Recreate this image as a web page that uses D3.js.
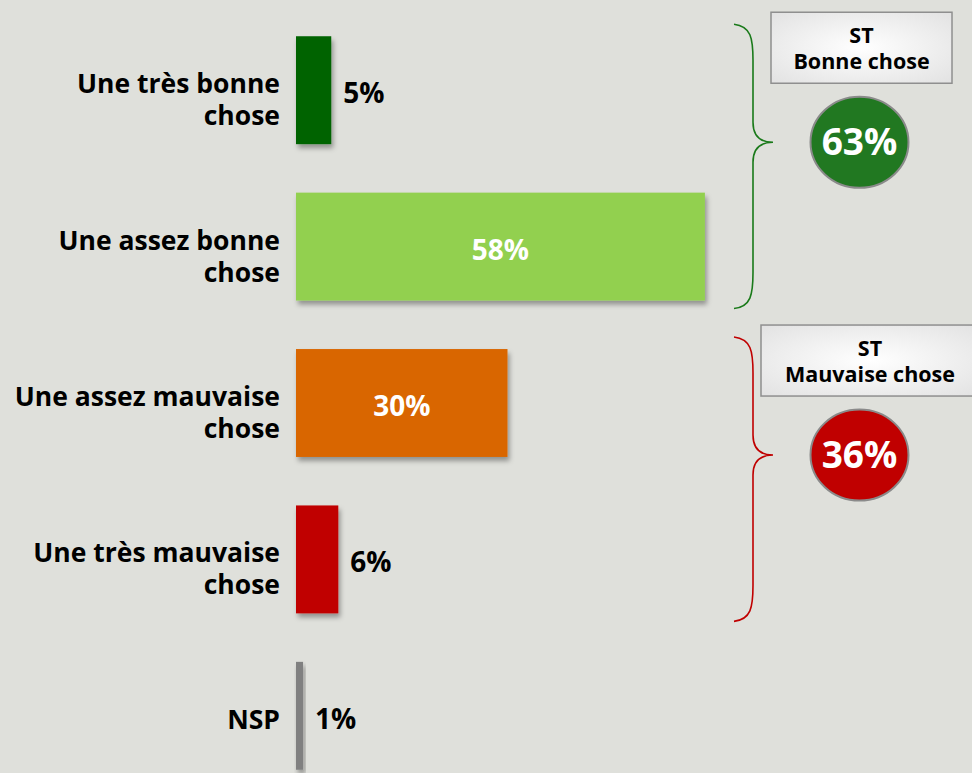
<!DOCTYPE html>
<html>
<head>
<meta charset="utf-8">
<script src="https://cdn.jsdelivr.net/npm/d3@7"></script>
<style>
  body { margin: 0; background: #dfe0db; }
  svg { display: block; font-family: "Open Sans", "DejaVu Sans", sans-serif; font-weight: 700; }
</style>
</head>
<body>
<div id="chart"></div>
<script>
    // data
    var categories = [
        ["Une très bonne", "chose"],
        ["Une assez bonne", "chose"],
        ["Une assez mauvaise", "chose"],
        ["Une très mauvaise", "chose"],
        ["NSP"]
    ]
    var values = [5, 58, 30, 6, 1]
    var colors = ["#006400", "#92d050", "#d96600", "#c00000", "#808080"]
    var groupTitles = [["ST", "Bonne chose"], ["ST", "Mauvaise chose"]]
    var groupMembers = [[0, 1], [2, 3]]
    var groupColors = ["#217821", "#c00000"]
    var braceColors = ["#1a7a1a", "#c00000"]

    var width = 972
    var height = 773

    var svg = d3.select('#chart')
        .append('svg')
        .attr('width', width)
        .attr('height', height)

    var defs = svg.append('defs')
    defs.append('filter')
        .attr('id', 'shadow')
        .attr('x', '-20%').attr('y', '-20%').attr('width', '150%').attr('height', '150%')
        .append('feDropShadow')
        .attr('dx', 2).attr('dy', 4)
        .attr('stdDeviation', 2.5)
        .attr('flood-color', '#000')
        .attr('flood-opacity', 0.35)

    var grad = defs.append('radialGradient').attr('id', 'boxfill')
        .attr('cx', '50%').attr('cy', '50%').attr('r', '70%')
    grad.append('stop').attr('offset', '0%').attr('stop-color', '#ffffff')
    grad.append('stop').attr('offset', '100%').attr('stop-color', '#e2e2e2')

    var x = d3.scaleLinear().domain([0, 100]).range([296, 1001])
    var y = d3.scaleBand()
        .domain(d3.range(values.length))
        .range([12, 794])
        .paddingInner(0.31)
        .paddingOuter(0.155)

    // bars
    svg.selectAll('rect.bar')
        .data(values)
        .enter()
        .append('rect')
        .attr('class', 'bar')
        .attr('x', x(0))
        .attr('y', function (d, i) { return y(i) })
        .attr('width', function (d) { return x(d) - x(0) })
        .attr('height', y.bandwidth())
        .attr('fill', function (d, i) { return colors[i] })
        .attr('filter', 'url(#shadow)')

    // value labels : inside (white) when the bar is wide, outside otherwise
    svg.selectAll('text.val')
        .data(values)
        .enter()
        .append('text')
        .attr('class', 'val')
        .attr('x', function (d) { return d > 15 ? (x(0) + x(d)) / 2 : x(d) + 12 })
        .attr('y', function (d, i) { return y(i) + y.bandwidth() / 2 + 13 })
        .attr('text-anchor', function (d) { return d > 15 ? 'middle' : 'start' })
        .attr('fill', function (d) { return d > 15 ? '#fff' : '#000' })
        .style('font-size', '28px')
        .text(function (d) { return d + '%' })

    // category labels
    var cat = svg.selectAll('text.cat')
        .data(categories)
        .enter()
        .append('text')
        .attr('class', 'cat')
        .attr('text-anchor', 'end')
        .attr('fill', '#000')
        .style('font-size', '26.5px')
        .attr('transform', function (d, i) {
            var cy = y(i) + y.bandwidth() / 2
            return 'translate(280,' + (d.length > 1 ? cy + 3 : cy + 13) + ')'
        })
    cat.selectAll('tspan')
        .data(function (d) { return d })
        .enter()
        .append('tspan')
        .attr('x', 0)
        .attr('dy', function (d, j) { return j == 0 ? 0 : 32 })
        .text(function (d) { return d })

    // braces, boxes and subtotal circles
    groupMembers.forEach(function (m, g) {
        var top = y(m[0]) - 12
        var bot = y(m[m.length - 1]) + y.bandwidth() + 8
        var cy = top + 118
        var xl = 734, xm = 753, xt = 773
        var p = d3.path()
        p.moveTo(xl, top)
        p.bezierCurveTo(xm - 2, top + 2, xm, top + 14, xm, top + 36)
        p.lineTo(xm, cy - 20)
        p.bezierCurveTo(xm, cy - 6, xm + 8, cy, xt, cy)
        p.bezierCurveTo(xm + 8, cy, xm, cy + 6, xm, cy + 20)
        p.lineTo(xm, bot - 36)
        p.bezierCurveTo(xm, bot - 14, xm - 2, bot - 2, xl, bot)
        svg.append('path')
            .attr('d', p.toString())
            .attr('fill', 'none')
            .attr('stroke', braceColors[g])
            .attr('stroke-width', 1.6)

        var bx = g == 0 ? 771 : 761
        var bw = g == 0 ? 181 : 218
        svg.append('rect')
            .attr('x', bx).attr('y', top - 12)
            .attr('width', bw).attr('height', 71)
            .attr('fill', 'url(#boxfill)')
            .attr('stroke', '#8f8f8f')
            .attr('stroke-width', 1.5)
        var tt = svg.append('text')
            .attr('text-anchor', 'middle')
            .style('font-size', '21.5px')
            .attr('fill', '#000')
        groupTitles[g].forEach(function (s, j) {
            tt.append('tspan')
                .attr('x', bx + bw / 2)
                .attr('y', top - 12 + 31 + j * 26)
                .text(s)
        })

        var total = d3.sum(m, function (k) { return values[k] })
        svg.append('ellipse')
            .attr('cx', 859.5).attr('cy', cy)
            .attr('rx', 49).attr('ry', 45.5)
            .attr('fill', groupColors[g])
            .attr('stroke', '#8a8a8a')
            .attr('stroke-width', 2)
        svg.append('text')
            .attr('x', 859.5).attr('y', cy + 13)
            .attr('text-anchor', 'middle')
            .attr('fill', '#fff')
            .style('font-size', '37px')
            .text(total + '%')
    })
</script>
</body>
</html>
